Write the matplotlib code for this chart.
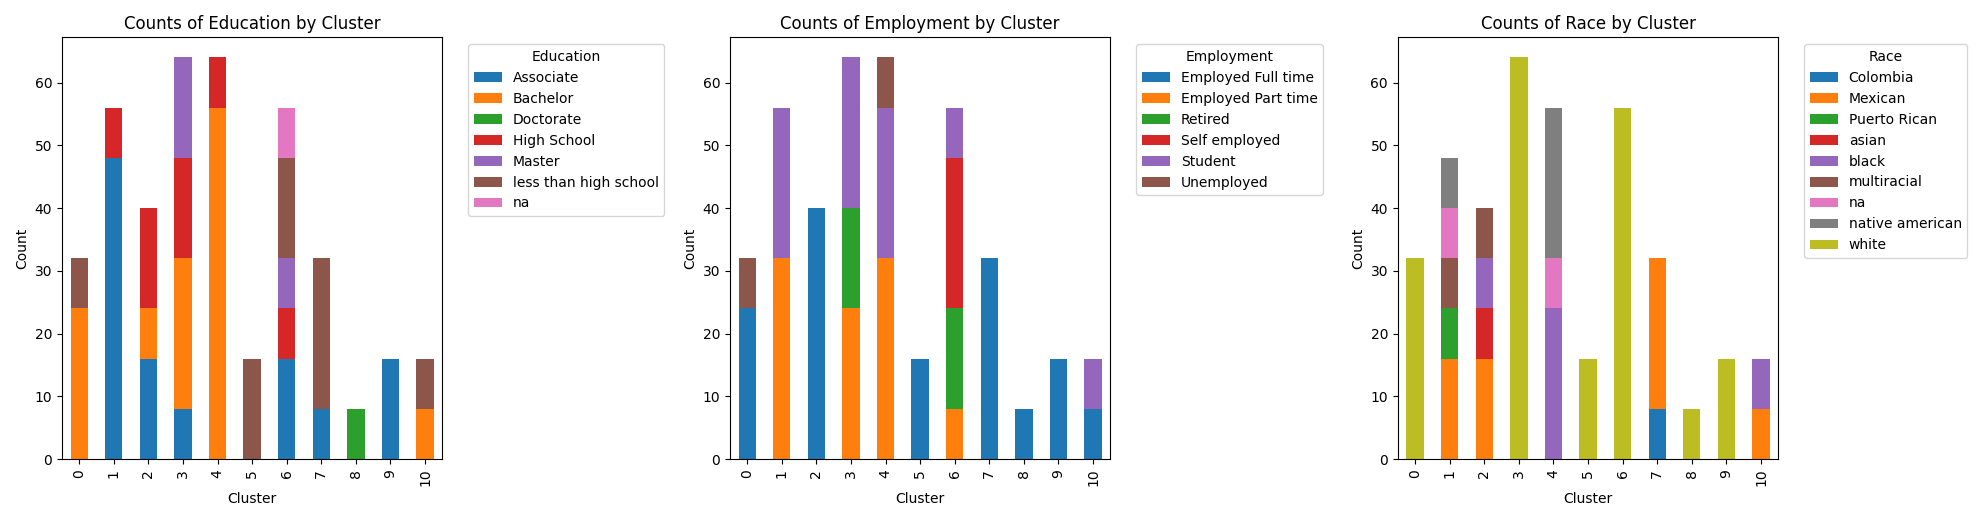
import numpy as np
import pandas as pd
import matplotlib.pyplot as plt

clusters = list(range(11))

edu_cats = ['Associate', 'Bachelor', 'Doctorate', 'High School', 'Master', 'less than high school', 'na']
edu_vals = {
    'Associate':             [0, 48, 16, 8, 0, 0, 16, 8, 0, 16, 0],
    'Bachelor':              [24, 0, 8, 24, 56, 0, 0, 0, 0, 0, 8],
    'Doctorate':             [0, 0, 0, 0, 0, 0, 0, 0, 8, 0, 0],
    'High School':           [0, 8, 16, 16, 8, 0, 8, 0, 0, 0, 0],
    'Master':                [0, 0, 0, 16, 0, 0, 8, 0, 0, 0, 0],
    'less than high school': [8, 0, 0, 0, 0, 16, 16, 24, 0, 0, 8],
    'na':                    [0, 0, 0, 0, 0, 0, 8, 0, 0, 0, 0],
}

emp_cats = ['Employed Full time', 'Employed Part time', 'Retired', 'Self employed', 'Student', 'Unemployed']
emp_vals = {
    'Employed Full time': [24, 0, 40, 0, 0, 16, 0, 32, 8, 16, 8],
    'Employed Part time': [0, 32, 0, 24, 32, 0, 8, 0, 0, 0, 0],
    'Retired':            [0, 0, 0, 16, 0, 0, 16, 0, 0, 0, 0],
    'Self employed':      [0, 0, 0, 0, 0, 0, 24, 0, 0, 0, 0],
    'Student':            [0, 24, 0, 24, 24, 0, 8, 0, 0, 0, 8],
    'Unemployed':         [8, 0, 0, 0, 8, 0, 0, 0, 0, 0, 0],
}

race_cats = ['Colombia', 'Mexican', 'Puerto Rican', 'asian', 'black', 'multiracial', 'na', 'native american', 'white']
race_vals = {
    'Colombia':        [0, 0, 0, 0, 0, 0, 0, 8, 0, 0, 0],
    'Mexican':         [0, 16, 16, 0, 0, 0, 0, 24, 0, 0, 8],
    'Puerto Rican':    [0, 8, 0, 0, 0, 0, 0, 0, 0, 0, 0],
    'asian':           [0, 0, 8, 0, 0, 0, 0, 0, 0, 0, 0],
    'black':           [0, 0, 8, 0, 24, 0, 0, 0, 0, 0, 8],
    'multiracial':     [0, 8, 8, 0, 0, 0, 0, 0, 0, 0, 0],
    'na':              [0, 8, 0, 0, 8, 0, 0, 0, 0, 0, 0],
    'native american': [0, 8, 0, 0, 24, 0, 0, 0, 0, 0, 0],
    'white':           [32, 0, 0, 64, 0, 16, 56, 0, 8, 16, 0],
}

panels = [('Education', edu_cats, edu_vals),
          ('Employment', emp_cats, emp_vals),
          ('Race', race_cats, race_vals)]

fig, axes = plt.subplots(1, 3, figsize=(19.86, 5.21), dpi=100)

for ax, (name, cats, vals) in zip(axes, panels):
    df = pd.DataFrame(vals, index=clusters)[cats]
    df.index.name = 'Cluster'
    df.plot(kind='bar', stacked=True, ax=ax)
    ax.set_title(f'Counts of {name} by Cluster')
    ax.set_xlabel('Cluster')
    ax.set_ylabel('Count')
    ax.legend(title=name, bbox_to_anchor=(1.05, 1), loc='upper left')

plt.tight_layout()
plt.savefig('out.png')
